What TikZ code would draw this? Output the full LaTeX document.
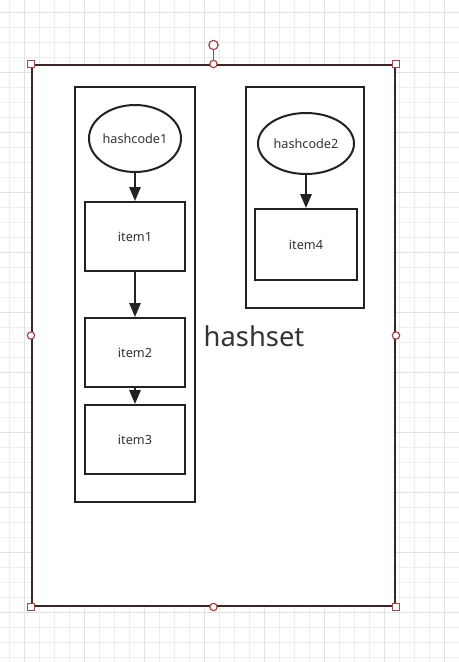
\documentclass[tikz,border=0pt]{standalone}
\usepackage{fontspec}
\setmainfont{Noto Sans}
\usetikzlibrary{arrows.meta,shapes.geometric}
\definecolor{gridminor}{HTML}{EDEDED}
\definecolor{gridmajor}{HTML}{E0E0E0}
\definecolor{frameclr}{HTML}{3A2626}
\definecolor{handleclr}{HTML}{9A4848}
\definecolor{inkclr}{HTML}{222222}
\definecolor{textclr}{HTML}{333333}
\tikzset{
  box/.style={draw=inkclr, line width=1.5pt, inner sep=0pt, font=\fontsize{9.5}{11}\selectfont, text=textclr},
  ellbox/.style={box, ellipse},
  arr/.style={draw=inkclr, line width=1.5pt, -{Triangle[length=10.5pt,width=8.5pt]}},
  sqhandle/.style={draw=handleclr, fill=white, line width=0.9pt, inner sep=0pt, minimum size=5.5pt},
  cirhandle/.style={draw=handleclr, fill=white, line width=0.9pt, inner sep=0pt, circle, minimum size=5.5pt},
}
\begin{document}
\begin{tikzpicture}[x=0.75pt, y=-0.75pt]
\useasboundingbox (0,0) rectangle (459,662);
\fill[white] (0,0) rectangle (459,662);
% grid
\foreach \gx in {9.3,24.3,...,459} \draw[gridminor, line width=0.75pt] (\gx,0) -- (\gx,662);
\foreach \gy in {12.5,27.5,...,662} \draw[gridminor, line width=0.75pt] (0,\gy) -- (459,\gy);
\foreach \gx in {24.3,84.3,...,459} \draw[gridmajor, line width=0.75pt] (\gx,0) -- (\gx,662);
\foreach \gy in {12.5,72.5,...,662} \draw[gridmajor, line width=0.75pt] (0,\gy) -- (459,\gy);
% main frame
\node[draw=frameclr, fill=white, line width=1.5pt, inner sep=0pt, minimum width=272.25pt, minimum height=405.75pt] (main) at (213.5,335.5) {};
% containers
\node[box, minimum width=90pt, minimum height=311.25pt] (left) at (135,294.5) {};
\node[box, minimum width=88.5pt, minimum height=165.75pt] (right) at (305,197.5) {};
% left chain
\node[ellbox, minimum width=69pt, minimum height=50.25pt] (hc1) at (135,138.5) {hashcode1};
\node[box, minimum width=75pt, minimum height=51.75pt] (item1) at (135,236.5) {item1};
\node[box, minimum width=75pt, minimum height=51.75pt] (item2) at (135,352.5) {item2};
\node[box, minimum width=75pt, minimum height=51.75pt] (item3) at (135,439.5) {item3};
% right chain
\node[ellbox, minimum width=72pt, minimum height=45.75pt] (hc2) at (306,143.5) {hashcode2};
\node[box, minimum width=76.5pt, minimum height=53.25pt] (item4) at (306,244.5) {item4};
% arrows
\draw[arr] (hc1) -- (item1);
\draw[arr] (item1) -- (item2);
\draw[arr] (item2) -- (item3);
\draw[arr] (hc2) -- (item4);
% label
\node[text=textclr, font=\fontsize{20.5}{23}\selectfont, inner sep=0pt] (label) at (254,336) {hashset};
% selection handles
\coordinate (rotbase) at (main.north);
\node[cirhandle, minimum size=7pt] (rot) at (213.5,45) {};
\draw[handleclr, line width=0.9pt] (rot) -- (rotbase);
\node[sqhandle] (hnw) at (main.north west) {};
\node[sqhandle] (hne) at (main.north east) {};
\node[sqhandle] (hsw) at (main.south west) {};
\node[sqhandle] (hse) at (main.south east) {};
\node[cirhandle] (hn) at (main.north) {};
\node[cirhandle] (hs) at (main.south) {};
\node[cirhandle] (hw) at (main.west) {};
\node[cirhandle] (he) at (main.east) {};
\end{tikzpicture}
\end{document}
